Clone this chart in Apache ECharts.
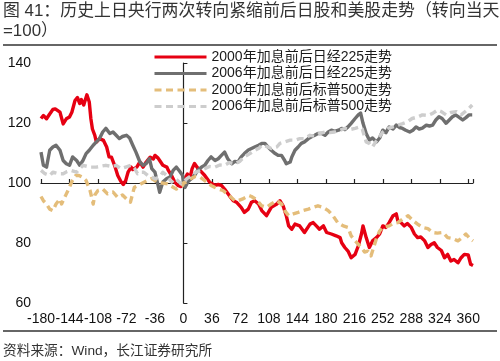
<!DOCTYPE html>
<html><head><meta charset="utf-8">
<script src="https://cdn.jsdelivr.net/npm/echarts@6/dist/echarts.min.js"></script>
<style>html,body{margin:0;padding:0;background:#fff}#c{width:500px;height:361px}</style>
</head><body><div id="c"></div>
<script>
const titleLine1 = '图 41：历史上日央行两次转向紧缩前后日股和美股走势（转向当天';
const titleLine2 = '=100）';
const sourceText = '资料来源：Wind，长江证券研究所';
const seriesNames = ['2000年加息前后日经225走势','2006年加息前后日经225走势','2000年加息前后标普500走势','2006年加息前后标普500走势'];
const xMin = -180, xMax = 366, xInterval = 36;
const yMin = 60, yMax = 140, yInterval = 20;
const baseLevel = 100;
const turnDay = 0;
const turnLineTop = 123.7, turnLineBottom = 58;

// [day relative to turn, index level]
const n225_2000 = [[-180,121.5],[-177,122.5],[-173,121.4],[-169,123],[-165,124.5],[-162,124.7],[-156,123.6],[-152,119.7],[-148,121.4],[-144,122],[-141,123.6],[-137,127.5],[-134,128.5],[-131,126.5],[-129,127.8],[-126,126],[-122,129.4],[-119,127],[-117,121.5],[-115,118],[-112,115.9],[-110,113.6],[-106,114.8],[-101,114.2],[-97,112],[-94,108.7],[-91,108.6],[-87,105.9],[-83,102.5],[-79,100.5],[-76,99.5],[-73,100.8],[-70,103.6],[-66,105.3],[-64,104.5],[-59,105.3],[-55,107],[-51,105.3],[-47,107],[-42,108.6],[-38,108],[-36,109.2],[-32,108.3],[-30,107.5],[-26,105.9],[-21,105.3],[-19,104.2],[-15,102.5],[-11,100.3],[-7,99.2],[-3,98.8],[0,100],[2,101.5],[5,103],[8,101.4],[11,104.8],[14,106.5],[16,105.9],[18,105],[21,104.2],[23,103.6],[27,102.5],[29,101.9],[33,100.3],[35,100.8],[40,99.2],[44,99.5],[48,99.2],[52,98],[58,95.8],[63,94.1],[67,93.6],[73,91.9],[77,90.2],[82,91.3],[86,93.6],[90,94.1],[95,93],[99,90.8],[105,89.1],[111,91.9],[118,93],[122,94.1],[126,92.4],[130,89.1],[133,85.7],[137,84.6],[141,86.3],[147,85.7],[153,83.5],[160,86.3],[164,86.8],[168,85.7],[172,84.6],[177,85.7],[181,83.5],[187,83],[193,82.4],[198,81.8],[200,80.1],[204,78.5],[208,77.3],[212,75.1],[217,76.2],[221,79],[225,83],[227,85.7],[231,81.8],[235,78.5],[239,80.7],[244,81.8],[248,83],[252,85.7],[256,85.2],[260,86.8],[265,89.1],[269,89.7],[271,87.4],[275,86.8],[279,85.7],[283,86.5],[288,85.2],[292,83],[296,81.8],[300,82],[305,80.7],[309,78.5],[313,79.5],[317,80.1],[321,78.5],[326,77.5],[330,75.1],[334,76.2],[338,74],[342,74.5],[347,73.4],[351,75.1],[355,76.2],[357,76.8],[360,76],[363,72.9],[366,72.5]];
const n225_2006 = [[-180,110.3],[-177,105.9],[-173,105.3],[-169,110.9],[-165,112],[-161,112.6],[-156,110.9],[-152,107.5],[-148,106.4],[-144,105.9],[-140,108.7],[-135,107.5],[-131,105.9],[-127,107.5],[-123,109.8],[-119,110.9],[-114,112.6],[-110,113.7],[-106,114.8],[-102,117],[-98,118.2],[-93,116.5],[-89,117],[-85,115.9],[-81,114.8],[-77,115.5],[-72,115.9],[-68,115],[-64,112.6],[-60,110.3],[-55,107],[-51,105.9],[-47,106.5],[-43,108.1],[-40,104.8],[-36,103.6],[-32,99.2],[-30,96.9],[-26,100.3],[-21,101.5],[-17,102],[-13,104.2],[-9,105.3],[-5,104],[-1,102.5],[0,100],[2,98.5],[6,100.5],[10,101.4],[14,102.5],[18,104.2],[23,105.3],[27,105.9],[31,107.5],[35,108.7],[40,107.5],[44,108.1],[48,109.2],[52,110.3],[56,108.1],[61,106.4],[65,107.2],[69,107],[73,108.7],[77,109.8],[82,111],[86,111.5],[90,112],[95,112.6],[99,113.2],[103,113.2],[107,112],[111,110.9],[116,109.8],[120,109.2],[124,109.2],[128,107.5],[130,106.4],[135,107],[137,108.7],[141,110.9],[145,112],[149,113.2],[153,113.7],[158,114.8],[162,115.4],[166,115.9],[170,116.5],[175,116.5],[179,115.9],[183,117],[187,117.6],[191,117.2],[196,117.6],[200,118.2],[204,117.8],[208,118.7],[212,119.9],[217,121.5],[221,122.7],[224,123.3],[227,119.9],[231,116.5],[235,114.3],[239,115],[244,113.7],[248,115],[252,117.6],[256,116.8],[260,118.7],[265,118],[269,119.3],[273,118.5],[277,118.2],[281,117.6],[286,117],[290,117.6],[294,118.7],[298,118],[302,118.3],[307,119.3],[311,119],[315,119.3],[319,121],[323,122.1],[327,121.5],[332,119.9],[336,121],[340,122.1],[344,122.7],[349,121.8],[353,121],[357,121.8],[361,122.7],[365,122.7]];
const spx_2000 = [[-180,95.5],[-177,94.1],[-173,93],[-169,91.3],[-165,90.8],[-161,93],[-156,94.7],[-154,93],[-149,95.8],[-145,98],[-141,100.5],[-136,102.5],[-132,102.5],[-127,101.8],[-123,100.8],[-118,97.5],[-114,93],[-112,96],[-108,97.5],[-102,98],[-96,96.4],[-89,97],[-83,95.2],[-77,96],[-72,94.7],[-67,93.6],[-62,98.6],[-57,99.2],[-54,99.7],[-46,100.8],[-40,101.5],[-33,100.3],[-27,100],[-20,99.7],[-13,98.6],[-9,98],[-5,98.5],[-1,99.2],[0,100],[4,100.3],[9,101.4],[15,102.2],[21,102],[27,100.8],[35,99.2],[40,98.5],[44,98],[50,97.5],[58,95.8],[65,94.1],[69,94.1],[75,94.7],[83,95.8],[86,95.5],[92,94.5],[99,92.4],[105,91.9],[111,93],[118,94.1],[124,93],[128,90.8],[133,89.1],[139,89.7],[145,90.2],[151,90.8],[158,91.3],[164,91.9],[170,92.4],[176,91.9],[183,90.8],[189,89.1],[195,86.8],[202,85.7],[208,85.2],[212,82.4],[217,80.7],[221,79.6],[225,78.5],[229,77],[233,77.3],[237,75.7],[241,79],[244,81.5],[248,84],[252,85.2],[256,85.5],[260,85.7],[265,86.5],[271,86.8],[277,88],[281,88.5],[284,89.1],[290,87.5],[296,86.3],[302,85.2],[309,84.8],[315,83.5],[321,83.3],[328,83.5],[334,81.8],[340,81.5],[347,80.7],[351,81.5],[357,83],[362,81.5],[366,80.7]];
const spx_2006 = [[-180,104.2],[-175,103.1],[-169,102.5],[-165,103.6],[-158,103.1],[-152,103.1],[-147,103.8],[-142,104.2],[-135,103.6],[-127,105.9],[-118,105.3],[-110,105.3],[-104,105.6],[-98,105.9],[-90,105.5],[-85,105.9],[-79,104.8],[-73,105.3],[-66,105.9],[-62,105],[-58,103.1],[-55,103.6],[-50,103.6],[-45,102.5],[-40,102],[-36,101.4],[-30,102],[-26,103.6],[-21,102.5],[-15,100.3],[-11,101.5],[-7,100.8],[-3,99.7],[0,100],[4,101.4],[10,102.5],[16,103.6],[22,104.2],[27,104.8],[33,105.5],[40,105.3],[46,106],[52,105.9],[58,106.8],[65,106.4],[71,107.2],[77,108.7],[84,109.8],[90,110.9],[96,111.7],[99,112.6],[105,112.2],[111,111.5],[118,112],[122,113.2],[128,113.7],[135,114.3],[141,114.3],[147,114.8],[153,114.8],[160,115.9],[166,115.6],[172,116.5],[179,117],[185,116.8],[191,117],[198,117.6],[204,118.2],[210,117.8],[217,118.2],[223,118.7],[226,118],[229,115.4],[231,113.7],[235,113.2],[239,112],[243,113.7],[248,115.5],[252,117],[258,118.2],[265,118.7],[271,119.3],[277,119.8],[283,120.4],[289,121.5],[296,122],[302,122.7],[309,122.5],[315,123.2],[321,124.3],[326,123.8],[332,122.7],[338,123.5],[345,123.8],[351,122.7],[357,124],[361,124.9],[365,126]];

const FONT = '"Liberation Sans", Arial, "Noto Sans CJK SC", sans-serif';
const chart = echarts.init(document.getElementById('c'), null, {renderer:'canvas'});
const gridTop = 63, gridBottom = 58;
const plotH = 361 - gridTop - gridBottom;
const baseOffset = -plotH * (baseLevel - yMin) / (yMax - yMin);

function mk(name, data, color, dashed){
  return {
    name, type:'line', data, symbol:'none', smooth:false, animation:false,
    lineStyle:{color, width:3.4, type: dashed ? [7,4.5] : 'solid', cap:'butt', join:'round'},
    itemStyle:{color},
    emphasis:{disabled:true}, silent:true
  };
}
const series = [
  mk(seriesNames[0], n225_2000, '#e60012', false),
  mk(seriesNames[1], n225_2006, '#6f6f6f', false),
  mk(seriesNames[2], spx_2000, '#e4bd7a', true),
  mk(seriesNames[3], spx_2006, '#cdcdcd', true)
];
series[0].markLine = {
  silent:true, symbol:'none', animation:false,
  label:{show:false},
  lineStyle:{color:'#7a7a7a', width:3, type:[7,4]},
  data:[[{coord:[turnDay, turnLineTop]},{coord:[turnDay, turnLineBottom]}]]
};

chart.setOption({
  animation:false,
  backgroundColor:'#fff',
  textStyle:{fontFamily:FONT},
  grid:{left:41, right:27, top:gridTop, bottom:gridBottom, containLabel:false},
  legend:{
    orient:'vertical', left:148, top:45, itemWidth:52, itemHeight:14, itemGap:2.5,
    itemStyle:{opacity:0},
    lineStyle:{width:3},
    textStyle:{fontSize:14, color:'#1a1a1a', fontFamily:FONT},
    data:seriesNames, selectedMode:false
  },
  xAxis:[{
    type:'value', min:xMin, max:xMax, interval:xInterval, position:'bottom',
    axisLine:{show:false}, axisTick:{show:false}, splitLine:{show:false},
    axisLabel:{fontSize:14, color:'#111', margin:9, showMaxLabel:false, hideOverlap:false, fontFamily:FONT}
  },{
    type:'value', min:xMin, max:xMax, interval:xInterval, position:'bottom', offset:baseOffset,
    axisLine:{show:true, onZero:false, lineStyle:{color:'#222', width:1.2}},
    axisTick:{show:true, inside:true, length:4, lineStyle:{color:'#222', width:1.2}},
    axisLabel:{show:false}, splitLine:{show:false}
  }],
  yAxis:{
    type:'value', min:yMin, max:yMax, interval:yInterval,
    axisLine:{show:true, lineStyle:{color:'#222', width:1.2}},
    axisTick:{show:true, inside:true, length:4, lineStyle:{color:'#222'}},
    splitLine:{show:false},
    axisLabel:{fontSize:14, color:'#111', margin:10, fontFamily:FONT}
  },
  series,
  graphic:[
    {type:'text', left:3, top:3, style:{text:titleLine1, fontSize:16.9, fill:'#333', fontFamily:FONT}},
    {type:'text', left:3, top:23, style:{text:titleLine2, fontSize:16.9, fill:'#333', fontFamily:FONT}},
    {type:'line', shape:{x1:3, y1:45, x2:497, y2:45}, style:{stroke:'#333', lineWidth:1.5}},
    {type:'line', shape:{x1:3, y1:331, x2:497, y2:331}, style:{stroke:'#333', lineWidth:1.5}},
    {type:'text', left:3, top:344, style:{text:sourceText, fontSize:13.7, fill:'#333', fontFamily:FONT}}
  ]
});
</script></body></html>
